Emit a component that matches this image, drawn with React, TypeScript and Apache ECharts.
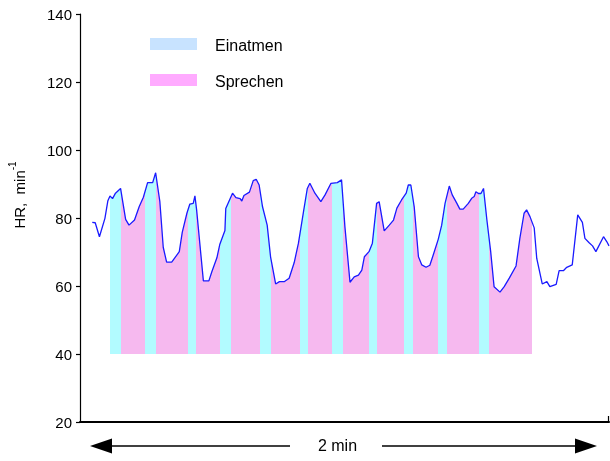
import React, { useEffect, useRef } from "react";
import * as echarts from "echarts";

// time in seconds (2 min span shown by the arrow), heart rate in 1/min
const timeSec = [
  2.9, 3.6, 4.6, 5.9, 6.6, 7.1, 7.7, 8.4, 9.6, 10.8, 11.6, 12.9, 14.0, 15.0, 16.0, 17.2, 17.9, 18.9, 19.7, 20.5,
  21.7, 23.5, 24.2, 25.3, 26.0, 26.8, 27.2, 27.6, 29.2, 30.5, 31.2, 32.4, 33.1, 34.3, 34.5, 36.1, 36.9, 37.9, 38.3, 38.8,
  40.1, 41.0, 41.7, 42.4, 43.2, 44.3, 45.1, 46.3, 47.2, 48.4, 49.5, 50.7, 51.7, 52.9, 53.8, 54.4, 55.6, 57.0, 58.0, 59.4,
  60.9, 61.9, 62.7, 63.9, 64.9, 65.9, 66.7, 67.3, 68.4, 69.2, 70.2, 70.8, 72.0, 73.2, 74.2, 75.0, 76.1, 77.2, 77.7, 78.3,
  79.1, 80.1, 80.9, 81.9, 82.8, 83.6, 84.8, 85.6, 86.4, 87.4, 88.1, 89.2, 89.9, 90.7, 91.9, 92.7, 93.3, 93.7, 94.3, 94.9,
  95.5, 96.3, 97.2, 98.0, 99.4, 100.4, 101.6, 103.2, 104.1, 105.1, 105.7, 106.5, 107.5, 108.1, 109.4, 110.5, 111.2, 112.7, 113.4, 114.4,
  115.2, 116.5, 117.8, 118.9, 119.5, 120.5, 121.3, 122.1, 123.9, 124.7, 125.2,
];
const heartRate = [
  78.7, 78.6, 74.5, 79.9, 85.1, 86.5, 85.7, 87.3, 88.7, 79.6, 77.9, 79.4, 83.3, 86.1, 90.4, 90.4, 93.3, 84.8, 71.4, 67.0,
  67.0, 70.1, 75.8, 81.4, 84.1, 84.3, 86.5, 82.4, 61.5, 61.5, 64.2, 68.3, 72.3, 76.3, 82.8, 87.3, 86.0, 85.7, 85.0, 86.6,
  87.6, 91.0, 91.4, 89.7, 83.3, 77.9, 68.6, 60.6, 61.3, 61.3, 62.3, 66.9, 72.6, 81.9, 88.7, 90.2, 87.3, 84.8, 86.8, 90.2,
  90.4, 91.2, 77.4, 61.1, 62.7, 63.2, 64.7, 68.6, 70.1, 72.6, 84.3, 84.8, 76.2, 77.9, 79.4, 82.9, 85.3, 87.3, 89.7, 89.7,
  83.3, 68.6, 66.2, 65.5, 66.1, 69.1, 73.8, 77.9, 84.3, 89.4, 86.8, 84.3, 82.6, 82.6, 84.3, 85.8, 86.3, 87.7, 87.2, 87.2,
  88.7, 79.4, 70.1, 59.8, 58.2, 59.8, 62.3, 65.9, 74.0, 81.4, 82.4, 80.4, 77.1, 68.1, 60.6, 61.3, 59.8, 60.5, 64.5, 64.5,
  65.5, 66.2, 80.9, 78.7, 74.0, 72.7, 71.8, 70.1, 74.5, 73.0, 71.8,
];

// breathing phases (seconds)
const einatmenStart = [7.1, 15.4, 25.5, 33.1, 42.6, 52.1, 59.6, 68.5, 76.7, 84.8, 94.4];
const einatmenEnd = [9.6, 18.0, 27.4, 35.7, 45.1, 53.9, 62.2, 70.4, 78.7, 86.8, 96.9];
const sprechenEnd = 106.9;
const fillBase = 40;

const legendNames = ["Einatmen", "Sprechen"];
const yMin = 20;
const yMax = 140;
const yStep = 20;
const xMax = 125.2;

const FONT = "'Liberation Sans', Arial, sans-serif";
const CYAN = "#b2fbff";
const PINK = "#f6b9ef";

export default function App() {
  const ref = useRef<HTMLDivElement>(null);
  useEffect(() => {
    const chart = echarts.init(ref.current!, null, { renderer: "svg" });
    const hrData = timeSec.map((t, i) => [t, heartRate[i]]);

    const pieces: any[] = [{ gte: -10, lt: einatmenStart[0], color: "rgba(255,255,255,0)" }];
    einatmenStart.forEach((s, i) => {
      pieces.push({ gte: s, lt: einatmenEnd[i], color: CYAN });
      const next = i + 1 < einatmenStart.length ? einatmenStart[i + 1] : sprechenEnd;
      pieces.push({ gte: einatmenEnd[i], lt: next, color: PINK });
    });
    pieces.push({ gte: sprechenEnd, lt: 1000, color: "rgba(255,255,255,0)" });

    chart.setOption({
      animation: false,
      textStyle: { fontFamily: FONT },
      grid: { left: 80, right: 1, top: 14, bottom: 39, containLabel: false },
      xAxis: {
        type: "value",
        min: 0,
        max: xMax,
        axisLine: { show: true, lineStyle: { color: "#000", width: 2 } },
        axisTick: { show: false },
        axisLabel: { show: false },
        splitLine: { show: false },
      },
      yAxis: {
        type: "value",
        min: yMin,
        max: yMax,
        interval: yStep,
        axisLine: { show: true, lineStyle: { color: "#000", width: 1.2 } },
        axisTick: { show: true, length: 4, lineStyle: { color: "#000", width: 1.2 } },
        axisLabel: { color: "#000", fontSize: 15, fontFamily: FONT, margin: 8 },
        splitLine: { show: false },
      },
      visualMap: {
        show: false,
        type: "piecewise",
        dimension: 0,
        seriesIndex: 0,
        pieces,
        outOfRange: { color: "rgba(255,255,255,0)" },
      },
      series: [
        {
          type: "line",
          data: hrData,
          showSymbol: false,
          symbol: "none",
          lineStyle: { width: 0, opacity: 0 },
          areaStyle: { opacity: 1, origin: fillBase },
          z: 1,
          silent: true,
        },
        {
          type: "line",
          data: hrData,
          showSymbol: false,
          symbol: "none",
          color: "#0000ff",
          lineStyle: { color: "#1a1aff", width: 1.3 },
          z: 3,
          silent: true,
        },
      ],
      graphic: [
        // legend
        { type: "rect", shape: { x: 150, y: 38, width: 47, height: 12 }, style: { fill: "#c8e3ff" } },
        { type: "rect", shape: { x: 150, y: 74, width: 47, height: 12 }, style: { fill: "#ffabff" } },
        {
          type: "text",
          x: 215,
          y: 45,
          style: { text: legendNames[0], fill: "#000", font: `16px ${FONT}`, verticalAlign: "middle" },
        },
        {
          type: "text",
          x: 215,
          y: 81,
          style: { text: legendNames[1], fill: "#000", font: `16px ${FONT}`, verticalAlign: "middle" },
        },
        // y axis title
        {
          type: "text",
          x: 19,
          y: 195,
          rotation: Math.PI / 2,
          style: {
            text: "{a|HR,  min}{b|-1}",
            align: "center",
            verticalAlign: "middle",
            fill: "#000",
            rich: {
              a: { fontSize: 15, fontFamily: FONT, lineHeight: 24, fill: "#000" },
              b: { fontSize: 10, fontFamily: FONT, lineHeight: 12, verticalAlign: "top", fill: "#000" },
            },
          },
        },
        // right end tick of x axis
        { type: "line", shape: { x1: 608.5, y1: 416, x2: 608.5, y2: 423 }, style: { stroke: "#000", lineWidth: 1.2 } },
        // 2 min arrow
        { type: "polygon", shape: { points: [[90, 446], [112, 438.5], [112, 453.5]] }, style: { fill: "#000" } },
        { type: "line", shape: { x1: 111, y1: 446, x2: 290, y2: 446 }, style: { stroke: "#000", lineWidth: 1.3 } },
        { type: "line", shape: { x1: 382, y1: 446, x2: 576, y2: 446 }, style: { stroke: "#000", lineWidth: 1.3 } },
        { type: "polygon", shape: { points: [[597, 446], [575, 438.5], [575, 453.5]] }, style: { fill: "#000" } },
        {
          type: "text",
          x: 337.5,
          y: 445,
          style: { text: "2 min", fill: "#000", font: `16px ${FONT}`, align: "center", verticalAlign: "middle" },
        },
      ],
    });
    return () => chart.dispose();
  }, []);
  return <div ref={ref} style={{ position: "fixed", left: 0, top: 0, width: 610, height: 461 }} />;
}
